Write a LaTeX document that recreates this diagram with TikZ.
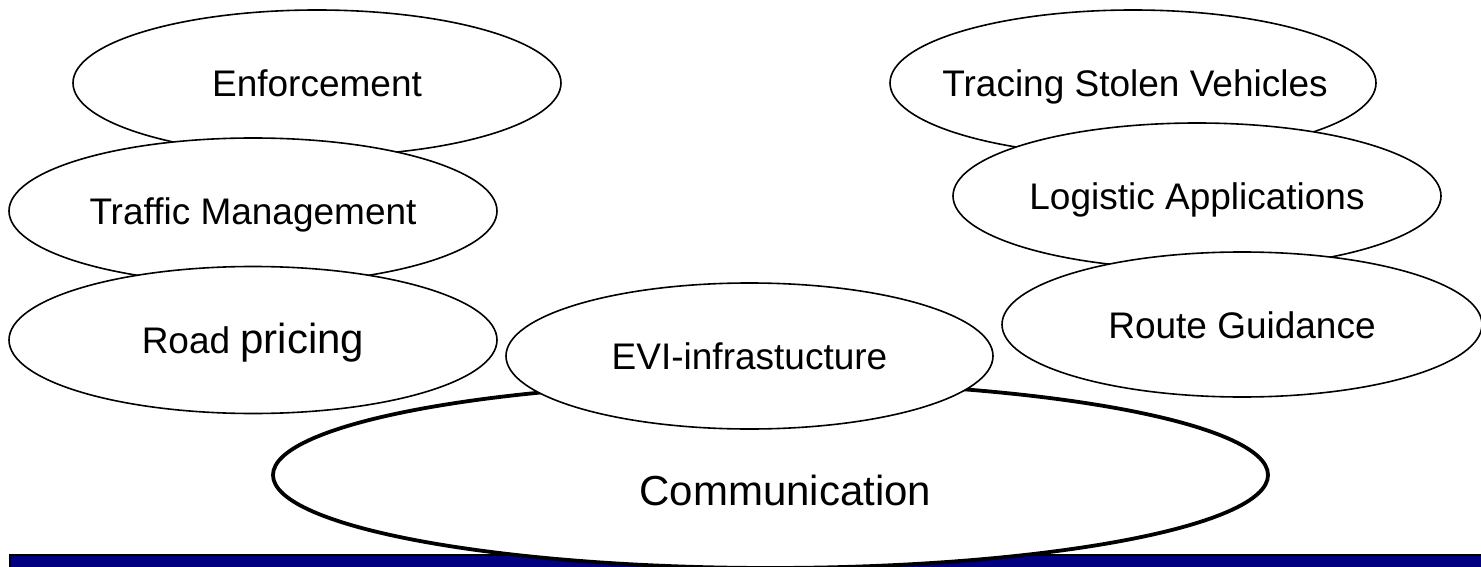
\documentclass[tikz,border=0pt]{standalone}
\usepackage{fontspec}
\setmainfont{Liberation Sans}
\usetikzlibrary{shapes.geometric}
\definecolor{barnavy}{RGB}{0,0,128}
\newcommand{\ovaltext}[1]{\makebox[0pt][c]{#1}}
\begin{document}
\begin{tikzpicture}[x=1pt,y=-1pt,
  oval/.style={ellipse, draw=black, fill=white, line width=1.6pt, inner sep=0pt,
    minimum width=488pt, minimum height=146pt,
    font=\fontsize{37}{44}\selectfont, text height=27pt, text depth=0pt},
  bigoval/.style={oval, line width=3.8pt, minimum width=995pt, minimum height=186pt,
    font=\fontsize{42}{50}\selectfont, text height=60pt}]
\useasboundingbox (0,0) rectangle (1481,567);
\draw[fill=barnavy, line width=2pt] (10,555) rectangle (1490,580);
\node[bigoval] (comm) at (770.5,475) {\ovaltext{\hspace*{30pt}Communication}};
\node[oval, minimum width=487pt] (evi) at (749.5,356) {\ovaltext{EVI-infrastucture}};
\node[oval] (enf) at (317,83) {\ovaltext{Enforcement}};
\node[oval] (traf) at (253,211) {\ovaltext{Traffic Management}};
\node[oval, minimum height=147pt] (road) at (253,340) {\ovaltext{Road {\fontsize{42}{50}\selectfont pricing}}};
\node[oval, minimum width=486pt] (trace) at (1133,83) {\ovaltext{\hspace*{4pt}Tracing Stolen Vehicles}};
\node[oval] (logi) at (1197,196) {\ovaltext{Logistic Applications}};
\node[oval, minimum width=480pt, minimum height=145pt] (route) at (1242,324.5) {\ovaltext{Route Guidance}};
\end{tikzpicture}
\end{document}
